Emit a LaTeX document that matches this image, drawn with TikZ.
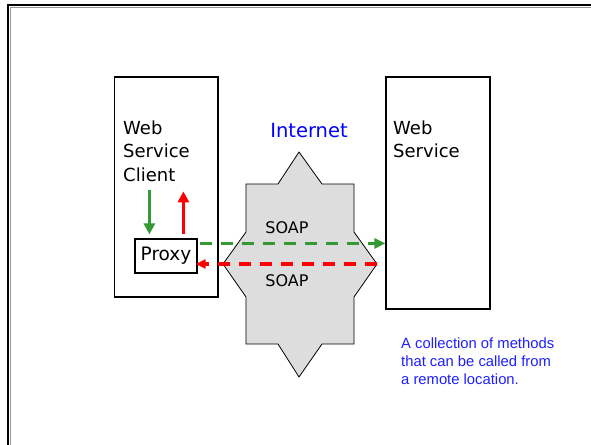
\documentclass[tikz,border=0pt]{standalone}
\usepackage{fontspec}
\setmainfont{DejaVu Sans}
\newfontfamily\arialfont{Liberation Sans}
\usetikzlibrary{arrows.meta,calc}
\definecolor{arrowgreen}{RGB}{51,153,51}
\definecolor{arrowred}{RGB}{255,0,0}
\definecolor{cloudgray}{RGB}{221,221,221}
\definecolor{noteblue}{RGB}{30,30,255}
\definecolor{framegray}{RGB}{150,150,150}
\begin{document}
\begin{tikzpicture}[x=1pt,y=-1pt,
  box/.style={draw=black, line width=1.2pt, inner sep=0pt},
  comic/.style={font=\fontsize{18}{23.5}\selectfont, inner sep=0pt, align=left},
  soaplabel/.style={font=\fontsize{16}{18}\selectfont, inner sep=0pt},
  greendash/.style={draw=arrowgreen, line width=3.5pt, dash pattern=on 12pt off 9pt,
    -{Triangle[length=11pt,width=10pt,fill=arrowgreen]}},
  reddash/.style={draw=arrowred, line width=3.5pt, dash pattern=on 12pt off 9pt,
    -{Triangle[length=10pt,width=9pt,fill=arrowred]}},
  greenup/.style={draw=arrowgreen, line width=3pt, -{Triangle[length=11pt,width=11pt,fill=arrowgreen]}},
  redup/.style={draw=arrowred, line width=3pt, -{Triangle[length=11pt,width=11pt,fill=arrowred]}},
  cloud/.style={draw=black, line width=0.8pt, fill=cloudgray},
  note/.style={font=\arialfont\fontsize{14.8}{18}\selectfont, text=noteblue, inner sep=0pt, align=left}
]
\useasboundingbox (0,0) rectangle (591,444);
% slide frame
\draw[framegray, line width=1pt] (10.2,460) -- (10.2,7.2) -- (610,7.2);
\draw[black, line width=2.2pt] (8,460) -- (8,5) -- (610,5);

% boxes
\node[box, minimum width=103.5pt, minimum height=220pt] (client) at (166.25,187) {};
\node[box, minimum width=104pt, minimum height=232pt] (service) at (438,193) {};
\node[comic, anchor=north west] (clientlabel) at (123,120.3) {Web\\Service\\Client};
\node[comic, anchor=north west] (servicelabel) at (393,120.3) {Web\\Service};

% internet star
\coordinate (sN) at (299,152);
\coordinate (sE) at (377,264);
\coordinate (sS) at (299,377);
\coordinate (sW) at (223,264);
\path[cloud] (sN) -- (322,184) -- (354,184) -- (354,232) -- (sE) -- (354,297) -- (354,344)
  -- (322,344) -- (sS) -- (278,344) -- (246,344) -- (246,297) -- (sW) -- (246,232)
  -- (246,184) -- (278,184) -- cycle;
\node[font=\fontsize{19.5}{22}\selectfont, text=blue, anchor=base, inner sep=0pt] (internet) at (309,137) {Internet};
\node[soaplabel] (soap1) at (287,228) {SOAP};
\node[soaplabel] (soap2) at (287,281) {SOAP};

% proxy
\node[box, fill=white, minimum width=62pt, minimum height=34pt, font=\fontsize{18.5}{20}\selectfont] (proxy) at (166,256) {Proxy};

% vertical arrows
\draw[greenup] ([xshift=15pt,yshift=48pt]proxy.north west) -- ([xshift=15pt,yshift=4pt]proxy.north west);
\draw[redup] ([xshift=49pt,yshift=4pt]proxy.north west) -- ([xshift=49pt,yshift=47pt]proxy.north west);

% dashed SOAP arrows
\coordinate (gs) at ([yshift=-5pt]proxy.north east);
\draw[greendash, shorten <=2pt] (gs) -- (gs -| service.west);
\draw[reddash, shorten >=-2pt] (sE) -- (sE -| proxy.east);

% note
\node[note, anchor=north west] (notetext) at (401,337.3) {A collection of methods\\that can be called from\\a remote location.};
\end{tikzpicture}
\end{document}
